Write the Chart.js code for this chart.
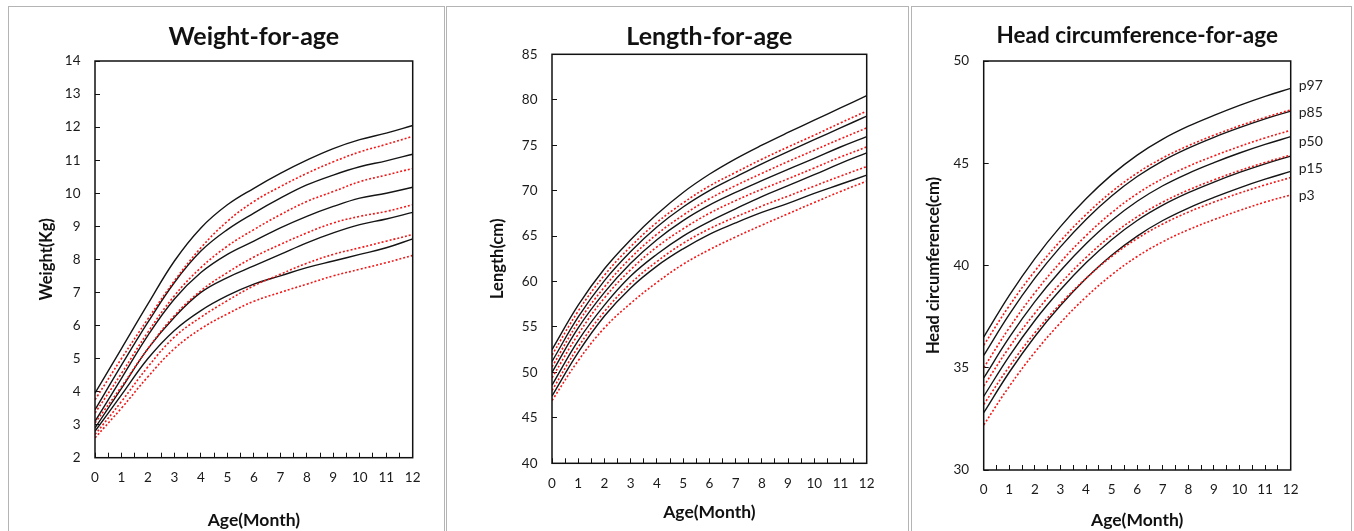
<!DOCTYPE html>
<html>
<head>
<meta charset="utf-8">
<script src="https://cdn.jsdelivr.net/npm/chart.js@4.4.1/dist/chart.umd.min.js"></script>
<style>
  body { margin: 0; background: #fff; width: 1354px; height: 531px; overflow: hidden; position: relative; }
  .panel { position: absolute; border: 1px solid #b4b4b4; }
  .panel canvas { position: absolute; left: 0; top: 0; }
</style>
</head>
<body>
<div class="panel" style="left:8px;top:6px;width:435px;height:540px"><canvas id="weightChart" width="435" height="524"></canvas></div>
<div class="panel" style="left:446px;top:6px;width:461px;height:540px"><canvas id="lengthChart" width="461" height="524"></canvas></div>
<div class="panel" style="left:911px;top:6px;width:439px;height:540px"><canvas id="headChart" width="439" height="524"></canvas></div>
<script>
// อายุ (เดือน)
var months = [0, 1, 2, 3, 4, 5, 6, 7, 8, 9, 10, 11, 12];

// Weight-for-age (kg) เส้นทึบ p97 -> p3
var weightBlack = [
  [3.95, 5.3, 6.65, 7.95, 8.95, 9.65, 10.15, 10.6, 11.0, 11.35, 11.62, 11.82, 12.05],
  [3.45, 4.8, 6.1, 7.3, 8.25, 8.9, 9.4, 9.85, 10.25, 10.55, 10.8, 10.98, 11.18],
  [3.1, 4.4, 5.7, 6.8, 7.6, 8.15, 8.55, 8.95, 9.3, 9.6, 9.85, 10.0, 10.18],
  [2.9, 4.1, 5.3, 6.25, 7.0, 7.45, 7.8, 8.15, 8.5, 8.8, 9.05, 9.22, 9.42],
  [2.8, 3.9, 5.0, 5.85, 6.45, 6.9, 7.25, 7.5, 7.75, 7.95, 8.15, 8.35, 8.62]
];
// Weight-for-age (kg) เส้นประสีแดง
var weightRed = [
  [3.75, 5.0, 6.2, 7.35, 8.35, 9.15, 9.75, 10.2, 10.6, 10.95, 11.25, 11.48, 11.72],
  [3.35, 4.55, 5.8, 6.9, 7.75, 8.4, 8.9, 9.35, 9.75, 10.05, 10.35, 10.55, 10.75],
  [3.05, 4.15, 5.3, 6.3, 7.05, 7.6, 8.07, 8.45, 8.8, 9.1, 9.3, 9.45, 9.65],
  [2.7, 3.7, 4.75, 5.65, 6.25, 6.75, 7.2, 7.55, 7.88, 8.15, 8.35, 8.55, 8.75],
  [2.6, 3.5, 4.45, 5.3, 5.9, 6.35, 6.73, 7.0, 7.25, 7.5, 7.7, 7.9, 8.12]
];

// Length-for-age (cm)
var lengthBlack = [
  [52.5, 57.4, 61.4, 64.6, 67.4, 69.8, 71.8, 73.5, 75.0, 76.4, 77.75, 79.1, 80.45],
  [51.2, 56.1, 60.1, 63.3, 66.0, 68.2, 70.0, 71.5, 72.95, 74.3, 75.6, 76.9, 78.2],
  [50.0, 54.9, 58.8, 62.0, 64.6, 66.7, 68.4, 69.8, 71.1, 72.35, 73.55, 74.8, 75.95],
  [48.6, 53.5, 57.4, 60.6, 63.0, 65.0, 66.6, 68.0, 69.35, 70.55, 71.75, 73.0, 74.15],
  [47.4, 52.2, 56.2, 59.3, 61.7, 63.6, 65.2, 66.45, 67.6, 68.6, 69.7, 70.7, 71.7]
];
var lengthRed = [
  [51.9, 56.75, 60.7, 63.85, 66.5, 68.65, 70.5, 72.0, 73.45, 74.8, 76.1, 77.45, 78.75],
  [50.6, 55.5, 59.4, 62.6, 65.2, 67.3, 69.1, 70.55, 71.9, 73.2, 74.45, 75.7, 76.9],
  [49.4, 54.2, 58.2, 61.3, 63.8, 65.8, 67.5, 68.9, 70.15, 71.3, 72.5, 73.7, 74.8],
  [48.0, 52.8, 56.7, 59.8, 62.2, 64.2, 65.8, 67.1, 68.3, 69.4, 70.5, 71.6, 72.65],
  [46.9, 51.3, 54.9, 57.6, 59.9, 61.9, 63.5, 64.9, 66.2, 67.45, 68.7, 69.9, 71.05]
];

// Head circumference-for-age (cm)
var headBlack = [
  [36.5, 38.54, 40.34, 41.9, 43.26, 44.43, 45.4, 46.18, 46.81, 47.34, 47.83, 48.27, 48.66],
  [35.6, 37.61, 39.38, 40.91, 42.25, 43.4, 44.35, 45.12, 45.74, 46.27, 46.74, 47.17, 47.55],
  [34.5, 36.48, 38.23, 39.74, 41.06, 42.2, 43.14, 43.9, 44.51, 45.03, 45.5, 45.92, 46.3],
  [33.6, 35.57, 37.31, 38.81, 40.13, 41.26, 42.2, 42.95, 43.56, 44.08, 44.55, 44.97, 45.35],
  [32.8, 34.78, 36.53, 38.04, 39.36, 40.5, 41.44, 42.2, 42.81, 43.33, 43.8, 44.22, 44.6]
];
var headRed = [
  [36.1, 38.03, 39.73, 41.2, 42.49, 43.6, 44.52, 45.26, 45.86, 46.37, 46.83, 47.24, 47.61],
  [35.0, 36.95, 38.67, 40.16, 41.46, 42.58, 43.51, 44.25, 44.85, 45.36, 45.82, 46.24, 46.61],
  [34.1, 36.0, 37.67, 39.12, 40.39, 41.48, 42.38, 43.1, 43.69, 44.19, 44.64, 45.04, 45.4],
  [33.2, 35.06, 36.71, 38.13, 39.37, 40.44, 41.32, 42.03, 42.61, 43.1, 43.54, 43.94, 44.3],
  [32.2, 34.09, 35.76, 37.2, 38.46, 39.54, 40.44, 41.16, 41.75, 42.24, 42.69, 43.1, 43.45]
];

// ป้ายเปอร์เซ็นไทล์ด้านขวาของกราฟรอบศีรษะ
var headTagNames = ['p97', 'p85', 'p50', 'p15', 'p3'];
var headTagAt = [48.82, 47.46, 46.08, 44.73, 43.4];

var FONT = 'Lato';

function pts(vals) {
  return months.map(function (m, i) { return { x: m, y: vals[i] }; });
}

function lineSets(black, red) {
  var sets = [];
  // ชุดแรกถูกวาดทับบนสุด ให้เส้นแดงอยู่บน
  red.forEach(function (v) {
    sets.push({ data: pts(v), borderColor: '#f01818', borderWidth: 1.6, borderDash: [2, 2],
      pointRadius: 0, tension: 0.4 });
  });
  black.forEach(function (v) {
    sets.push({ data: pts(v), borderColor: '#151515', borderWidth: 1.4,
      pointRadius: 0, tension: 0.4 });
  });
  return sets;
}

var framePlugin = {
  id: 'frame',
  afterDatasetsDraw: function (chart) {
    var a = chart.chartArea, c = chart.ctx;
    c.save();
    c.strokeStyle = '#111';
    c.lineWidth = 1.5;
    c.strokeRect(a.left, a.top, a.right - a.left, a.bottom - a.top);
    c.restore();
  }
};

var tagPlugin = {
  id: 'tags',
  afterDraw: function (chart) {
    if (!chart.options.plugins.tags.show) return;
    var y = chart.scales.y, c = chart.ctx;
    c.save();
    c.font = '14px ' + FONT;
    c.fillStyle = '#222';
    c.textBaseline = 'middle';
    headTagNames.forEach(function (t, i) {
      c.fillText(t, chart.chartArea.right + 8, y.getPixelForValue(headTagAt[i]));
    });
    c.restore();
  }
};

function makeChart(id, o) {
  return new Chart(document.getElementById(id), {
    type: 'line',
    data: { datasets: lineSets(o.black, o.red) },
    options: {
      responsive: false,
      animation: false,
      devicePixelRatio: 1,
      layout: { padding: { left: 0, right: o.rpad, top: 0, bottom: 0 } },
      plugins: {
        legend: { display: false },
        tooltip: { enabled: false },
        tags: { show: !!o.tags },
        title: {
          display: true, text: o.title, fullSize: false, color: '#111',
          font: { family: FONT, size: o.tsize, weight: 'bold' },
          padding: { top: o.tpadTop, bottom: o.tpadBottom }
        }
      },
      scales: {
        x: {
          type: 'linear', min: 0, max: 12,
          afterFit: function (s) { s.height = o.xh; },
          border: { display: false },
          grid: { drawOnChartArea: false, tickLength: -5, color: '#111' },
          ticks: {
            stepSize: 0.5, autoSkip: false, maxRotation: 0, padding: 17, color: '#1a1a1a',
            font: { family: FONT, size: 13.5 },
            callback: function (v) { return Math.abs(v - Math.round(v)) < 1e-6 ? String(Math.round(v)) : ''; }
          },
          title: {
            display: true, text: 'Age(Month)', color: '#111',
            font: { family: FONT, size: 17.5, weight: 'bold' },
            padding: { top: 0, bottom: o.xtpad }
          }
        },
        y: {
          min: o.ymin, max: o.ymax,
          afterFit: function (s) { s.width = o.yw; },
          border: { display: false },
          grid: { drawOnChartArea: false, tickLength: -5, color: '#111' },
          ticks: { stepSize: o.step, padding: 19.5, color: '#1a1a1a', font: { family: FONT, size: 13.5 } },
          title: {
            display: true, text: o.ytitle, color: '#111',
            font: { family: FONT, size: 16.5, weight: 'bold' },
            padding: { top: o.ytpad, bottom: 0 }
          }
        }
      }
    },
    plugins: [framePlugin, tagPlugin]
  });
}

makeChart('weightChart', {
  black: weightBlack, red: weightRed, title: 'Weight-for-age', ytitle: 'Weight(Kg)',
  ymin: 2, ymax: 14, step: 1, tsize: 25,
  rpad: 31.3, yw: 86, xh: 73.3, xtpad: 0.5, ytpad: 28.1, tpadTop: 15, tpadBottom: 9
});

makeChart('lengthChart', {
  black: lengthBlack, red: lengthRed, title: 'Length-for-age', ytitle: 'Length(cm)',
  ymin: 40, ymax: 85, step: 5, tsize: 25,
  rpad: 41.3, yw: 105, xh: 67.7, xtpad: 8.5, ytpad: 41.1, tpadTop: 15, tpadBottom: 2.3
});

makeChart('headChart', {
  black: headBlack, red: headRed, title: 'Head circumference-for-age', ytitle: 'Head circumference(cm)',
  ymin: 30, ymax: 50, step: 5, tags: true, tsize: 22.5,
  rpad: 60.3, yw: 71.7, xh: 61, xtpad: 0.5, ytpad: 12.1, tpadTop: 15.5, tpadBottom: 11.5
});
</script>
</body>
</html>
